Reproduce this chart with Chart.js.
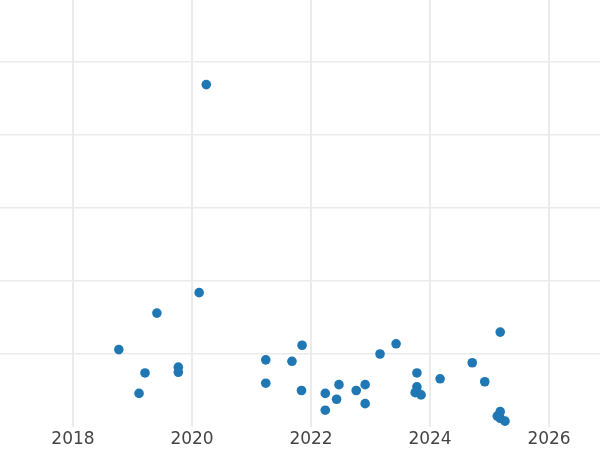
<!DOCTYPE html>
<html>
<head>
<meta charset="utf-8">
<script src="https://cdn.jsdelivr.net/npm/chart.js@4"></script>
<style>
    body { margin: 0; background: #fff; }
    canvas { display: block; }
</style>
</head>
<body>
<canvas id="chart" width="600" height="450"></canvas>
<script>
// decimal years and values
const xYears = [
    2018.77, 2019.11, 2019.21, 2019.41, 2019.77, 2019.77, 2020.12, 2020.24,
    2021.24, 2021.24, 2021.68, 2021.84, 2021.85, 2022.24, 2022.24, 2022.43,
    2022.47, 2022.76, 2022.91, 2022.91, 2023.16, 2023.43, 2023.78, 2023.78,
    2023.78, 2023.75, 2023.85, 2024.17, 2024.71, 2024.92, 2025.18, 2025.18,
    2025.13, 2025.18, 2025.26
];
const yValues = [
    1.06, 0.46, 0.74, 1.56, 0.82, 0.75, 1.84, 4.69,
    0.92, 0.60, 0.90, 0.50, 1.12, 0.46, 0.23, 0.38,
    0.58, 0.50, 0.58, 0.32, 1.00, 1.14, 0.74, 0.55,
    0.49, 0.47, 0.44, 0.66, 0.88, 0.62, 1.30, 0.21,
    0.15, 0.12, 0.08
];
const yearTicks = [2018, 2020, 2022, 2024, 2026];
const valueTicks = [1, 2, 3, 4, 5];

const points = xYears.map((x, i) => ({ x: x, y: yValues[i] }));

new Chart(document.getElementById('chart'), {
    type: 'scatter',
    data: {
        datasets: [{
            data: points,
            backgroundColor: '#1f77b4',
            borderWidth: 0,
            pointRadius: 4.8
        }]
    },
    options: {
        responsive: false,
        animation: false,
        layout: { padding: 0, autoPadding: false },
        plugins: {
            legend: { display: false },
            tooltip: { enabled: false }
        },
        scales: {
            x: {
                type: 'linear',
                min: 2016.773,
                max: 2026.857,
                afterBuildTicks: axis => { axis.ticks = yearTicks.map(v => ({ value: v })); },
                afterFit: axis => { axis.height = 23; }, // plot area ends at y=427
                grid: { color: '#ebebeb', lineWidth: 2, drawTicks: false },
                border: { display: false },
                ticks: {
                    padding: 5,
                    color: '#444',
                    font: { family: 'DejaVu Sans', size: 17, lineHeight: 0.95 },
                    callback: v => String(v)
                }
            },
            y: {
                min: 0,
                max: 5.849,
                afterBuildTicks: axis => { axis.ticks = valueTicks.map(v => ({ value: v })); },
                grid: { color: '#ebebeb', lineWidth: 1.5, drawTicks: false },
                border: { display: false },
                ticks: { display: false }
            }
        }
    }
});
</script>
</body>
</html>
